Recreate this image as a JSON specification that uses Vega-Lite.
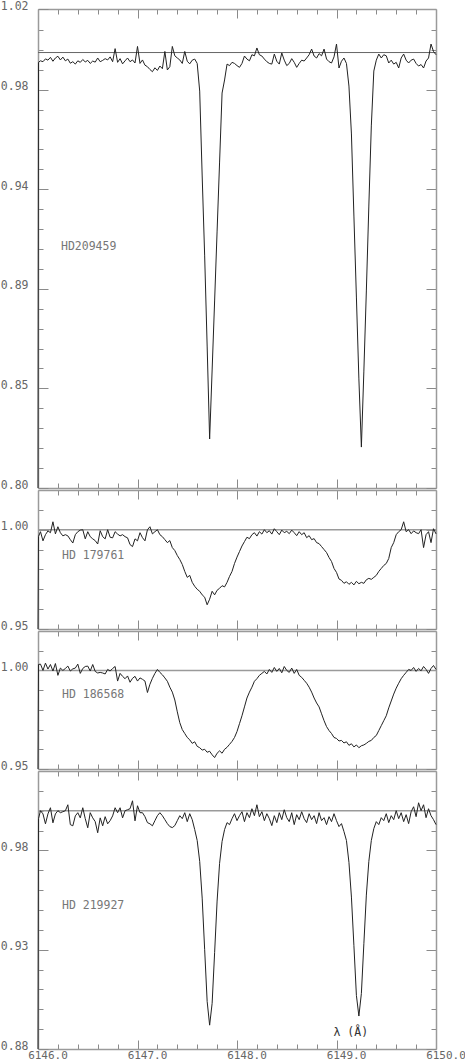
{
"$schema": "https://vega.github.io/schema/vega-lite/v6.json",
"padding": 0,
"background": "white",
"spacing": 2,
"bounds": "flush",
"config": {
 "view": {"stroke": null},
 "axis": {"domainColor": "#9a9a9a", "domainWidth": 1.5, "tickColor": "#8a8a8a", "tickWidth": 1, "labelFont": "DejaVu Sans Mono", "labelFontSize": 11.5, "labelColor": "#666", "grid": false, "labelFlush": false, "labelOverlap": false},
 "text": {"font": "DejaVu Sans Mono", "fontSize": 11.5}
},
"datasets": {"spec": [
{"x":6146.000,"hd209459":0.80,"hd179761":0.95,"hd186568":0.95,"hd219927":0.88},
{"x":6146.005,"hd209459":0.9955,"hd179761":0.9966,"hd186568":1.0030,"hd219927":0.9960},
{"x":6146.025,"hd209459":0.9962,"hd179761":0.9990,"hd186568":1.0032,"hd219927":1.0000},
{"x":6146.050,"hd209459":0.9958,"hd179761":0.9944,"hd186568":1.0000,"hd219927":0.9984},
{"x":6146.075,"hd209459":0.9971,"hd179761":0.9975,"hd186568":1.0037,"hd219927":0.9934},
{"x":6146.100,"hd209459":0.9965,"hd179761":0.9994,"hd186568":1.0007,"hd219927":0.9984},
{"x":6146.125,"hd209459":0.9978,"hd179761":0.9985,"hd186568":1.0030,"hd219927":1.0015},
{"x":6146.150,"hd209459":0.9960,"hd179761":1.0040,"hd186568":0.9997,"hd219927":0.9939},
{"x":6146.175,"hd209459":0.9975,"hd179761":0.9979,"hd186568":1.0035,"hd219927":0.9984},
{"x":6146.200,"hd209459":0.9983,"hd179761":1.0015,"hd186568":0.9975,"hd219927":1.0000},
{"x":6146.225,"hd209459":0.9966,"hd179761":0.9985,"hd186568":1.0012,"hd219927":0.9990},
{"x":6146.250,"hd209459":0.9979,"hd179761":0.9969,"hd186568":1.0000,"hd219927":0.9995},
{"x":6146.275,"hd209459":0.9962,"hd179761":0.9975,"hd186568":1.0010,"hd219927":1.0000},
{"x":6146.300,"hd209459":0.9970,"hd179761":0.9969,"hd186568":1.0022,"hd219927":1.0030},
{"x":6146.325,"hd209459":0.9951,"hd179761":0.9950,"hd186568":0.9997,"hd219927":0.9930},
{"x":6146.350,"hd209459":0.9958,"hd179761":0.9933,"hd186568":1.0008,"hd219927":0.9924},
{"x":6146.375,"hd209459":0.9947,"hd179761":0.9975,"hd186568":1.0012,"hd219927":0.9974},
{"x":6146.400,"hd209459":0.9962,"hd179761":0.9990,"hd186568":1.0032,"hd219927":0.9990},
{"x":6146.425,"hd209459":0.9955,"hd179761":0.9998,"hd186568":0.9985,"hd219927":0.9964},
{"x":6146.450,"hd209459":0.9968,"hd179761":1.0000,"hd186568":1.0010,"hd219927":1.0015},
{"x":6146.475,"hd209459":0.9957,"hd179761":0.9954,"hd186568":1.0020,"hd219927":0.9960},
{"x":6146.500,"hd209459":0.9964,"hd179761":0.9990,"hd186568":1.0022,"hd219927":0.9914},
{"x":6146.525,"hd209459":0.9950,"hd179761":0.9965,"hd186568":0.9997,"hd219927":0.9990},
{"x":6146.550,"hd209459":0.9961,"hd179761":0.9954,"hd186568":1.0030,"hd219927":0.9964},
{"x":6146.575,"hd209459":0.9956,"hd179761":0.9945,"hd186568":0.9995,"hd219927":0.9945},
{"x":6146.600,"hd209459":0.9975,"hd179761":0.9928,"hd186568":0.9987,"hd219927":0.9889},
{"x":6146.625,"hd209459":0.9958,"hd179761":0.9995,"hd186568":0.9990,"hd219927":0.9964},
{"x":6146.650,"hd209459":0.9964,"hd179761":0.9965,"hd186568":0.9987,"hd219927":0.9924},
{"x":6146.675,"hd209459":0.9972,"hd179761":0.9954,"hd186568":0.9982,"hd219927":0.9970},
{"x":6146.700,"hd209459":0.9966,"hd179761":1.0000,"hd186568":1.0005,"hd219927":0.9934},
{"x":6146.725,"hd209459":0.9980,"hd179761":0.9962,"hd186568":0.9997,"hd219927":0.9950},
{"x":6146.750,"hd209459":0.9958,"hd179761":0.9959,"hd186568":1.0010,"hd219927":0.9974},
{"x":6146.775,"hd209459":1.0018,"hd179761":0.9990,"hd186568":1.0020,"hd219927":1.0015},
{"x":6146.800,"hd209459":0.9955,"hd179761":0.9978,"hd186568":0.9946,"hd219927":0.9990},
{"x":6146.825,"hd209459":0.9972,"hd179761":0.9969,"hd186568":0.9985,"hd219927":1.0015},
{"x":6146.850,"hd209459":0.9948,"hd179761":0.9975,"hd186568":0.9970,"hd219927":0.9964},
{"x":6146.875,"hd209459":0.9962,"hd179761":0.9965,"hd186568":0.9958,"hd219927":1.0000},
{"x":6146.900,"hd209459":0.9975,"hd179761":0.9959,"hd186568":0.9972,"hd219927":1.0005},
{"x":6146.925,"hd209459":0.9958,"hd179761":0.9925,"hd186568":0.9940,"hd219927":1.0010},
{"x":6146.950,"hd209459":0.9966,"hd179761":0.9915,"hd186568":0.9960,"hd219927":1.0050},
{"x":6146.975,"hd209459":0.9952,"hd179761":0.9954,"hd186568":0.9970,"hd219927":0.9949},
{"x":6147.000,"hd209459":1.0028,"hd179761":0.9944,"hd186568":0.9946,"hd219927":1.0025},
{"x":6147.025,"hd209459":0.9950,"hd179761":0.9985,"hd186568":0.9962,"hd219927":0.9990},
{"x":6147.050,"hd209459":0.9966,"hd179761":0.9960,"hd186568":0.9955,"hd219927":0.9990},
{"x":6147.075,"hd209459":0.9942,"hd179761":0.9944,"hd186568":0.9946,"hd219927":0.9970},
{"x":6147.100,"hd209459":0.9935,"hd179761":1.0000,"hd186568":0.9888,"hd219927":0.9940},
{"x":6147.125,"hd209459":0.9922,"hd179761":1.0015,"hd186568":0.9930,"hd219927":0.9934},
{"x":6147.150,"hd209459":0.9912,"hd179761":0.9979,"hd186568":0.9960,"hd219927":0.9924},
{"x":6147.175,"hd209459":0.9930,"hd179761":0.9990,"hd186568":0.9985,"hd219927":0.9950},
{"x":6147.200,"hd209459":0.9918,"hd179761":1.0000,"hd186568":1.0005,"hd219927":0.9975},
{"x":6147.225,"hd209459":0.9938,"hd179761":0.9975,"hd186568":0.9990,"hd219927":0.9990},
{"x":6147.250,"hd209459":0.9926,"hd179761":0.9965,"hd186568":0.9978,"hd219927":0.9975},
{"x":6147.275,"hd209459":1.0005,"hd179761":0.9950,"hd186568":0.9962,"hd219927":0.9955},
{"x":6147.300,"hd209459":0.9920,"hd179761":0.9935,"hd186568":0.9945,"hd219927":0.9935},
{"x":6147.325,"hd209459":0.9935,"hd179761":0.9945,"hd186568":0.9915,"hd219927":0.9920},
{"x":6147.350,"hd209459":1.0028,"hd179761":0.9910,"hd186568":0.9890,"hd219927":0.9915},
{"x":6147.375,"hd209459":0.9985,"hd179761":0.9895,"hd186568":0.9850,"hd219927":0.9925},
{"x":6147.400,"hd209459":0.9975,"hd179761":0.9870,"hd186568":0.9790,"hd219927":0.9950},
{"x":6147.425,"hd209459":0.9966,"hd179761":0.9850,"hd186568":0.9735,"hd219927":0.9975},
{"x":6147.450,"hd209459":0.9950,"hd179761":0.9825,"hd186568":0.9700,"hd219927":0.9960},
{"x":6147.475,"hd209459":1.0005,"hd179761":0.9790,"hd186568":0.9680,"hd219927":0.9990},
{"x":6147.500,"hd209459":0.9960,"hd179761":0.9760,"hd186568":0.9660,"hd219927":0.9945},
{"x":6147.525,"hd209459":0.9948,"hd179761":0.9770,"hd186568":0.9648,"hd219927":0.9985},
{"x":6147.550,"hd209459":0.9965,"hd179761":0.9735,"hd186568":0.9630,"hd219927":0.9955},
{"x":6147.575,"hd209459":0.9970,"hd179761":0.9715,"hd186568":0.9638,"hd219927":0.9905},
{"x":6147.600,"hd209459":0.9950,"hd179761":0.9700,"hd186568":0.9615,"hd219927":0.9850},
{"x":6147.625,"hd209459":0.9823,"hd179761":0.9690,"hd186568":0.9608,"hd219927":0.9745},
{"x":6147.650,"hd209459":0.9433,"hd179761":0.9672,"hd186568":0.9596,"hd219927":0.9560},
{"x":6147.675,"hd209459":0.9066,"hd179761":0.9660,"hd186568":0.9600,"hd219927":0.9300},
{"x":6147.700,"hd209459":0.8652,"hd179761":0.9622,"hd186568":0.9585,"hd219927":0.9040},
{"x":6147.725,"hd209459":0.8225,"hd179761":0.9650,"hd186568":0.9590,"hd219927":0.8920},
{"x":6147.750,"hd209459":0.8542,"hd179761":0.9690,"hd186568":0.9572,"hd219927":0.9030},
{"x":6147.775,"hd209459":0.8859,"hd179761":0.9672,"hd186568":0.9558,"hd219927":0.9285},
{"x":6147.800,"hd209459":0.9180,"hd179761":0.9695,"hd186568":0.9580,"hd219927":0.9545},
{"x":6147.825,"hd209459":0.9497,"hd179761":0.9705,"hd186568":0.9592,"hd219927":0.9735},
{"x":6147.850,"hd209459":0.9814,"hd179761":0.9718,"hd186568":0.9580,"hd219927":0.9845},
{"x":6147.875,"hd209459":0.9874,"hd179761":0.9712,"hd186568":0.9600,"hd219927":0.9905},
{"x":6147.900,"hd209459":0.9947,"hd179761":0.9735,"hd186568":0.9610,"hd219927":0.9940},
{"x":6147.925,"hd209459":0.9940,"hd179761":0.9765,"hd186568":0.9625,"hd219927":0.9930},
{"x":6147.950,"hd209459":0.9955,"hd179761":0.9790,"hd186568":0.9640,"hd219927":0.9960},
{"x":6147.975,"hd209459":0.9950,"hd179761":0.9830,"hd186568":0.9660,"hd219927":0.9985},
{"x":6148.000,"hd209459":0.9940,"hd179761":0.9862,"hd186568":0.9690,"hd219927":0.9950},
{"x":6148.025,"hd209459":0.9932,"hd179761":0.9890,"hd186568":0.9730,"hd219927":0.9975},
{"x":6148.050,"hd209459":0.9950,"hd179761":0.9918,"hd186568":0.9770,"hd219927":0.9995},
{"x":6148.075,"hd209459":0.9984,"hd179761":0.9940,"hd186568":0.9815,"hd219927":0.9945},
{"x":6148.100,"hd209459":0.9970,"hd179761":0.9962,"hd186568":0.9860,"hd219927":0.9990},
{"x":6148.125,"hd209459":0.9962,"hd179761":0.9955,"hd186568":0.9890,"hd219927":0.9965},
{"x":6148.150,"hd209459":0.9990,"hd179761":0.9975,"hd186568":0.9915,"hd219927":1.0010},
{"x":6148.175,"hd209459":0.9985,"hd179761":0.9985,"hd186568":0.9945,"hd219927":0.9975},
{"x":6148.200,"hd209459":1.0021,"hd179761":0.9968,"hd186568":0.9958,"hd219927":1.0030},
{"x":6148.225,"hd209459":0.9990,"hd179761":0.9990,"hd186568":0.9975,"hd219927":0.9970},
{"x":6148.250,"hd209459":0.9984,"hd179761":0.9978,"hd186568":0.9985,"hd219927":0.9995},
{"x":6148.275,"hd209459":0.9970,"hd179761":1.0000,"hd186568":0.9995,"hd219927":0.9950},
{"x":6148.300,"hd209459":0.9958,"hd179761":0.9985,"hd186568":0.9982,"hd219927":0.9985},
{"x":6148.325,"hd209459":0.9950,"hd179761":0.9995,"hd186568":1.0005,"hd219927":0.9960},
{"x":6148.350,"hd209459":0.9947,"hd179761":0.9978,"hd186568":0.9990,"hd219927":0.9925},
{"x":6148.375,"hd209459":0.9993,"hd179761":1.0005,"hd186568":1.0015,"hd219927":0.9975},
{"x":6148.400,"hd209459":0.9960,"hd179761":0.9990,"hd186568":0.9995,"hd219927":0.9940},
{"x":6148.425,"hd209459":0.9947,"hd179761":0.9975,"hd186568":1.0010,"hd219927":0.9990},
{"x":6148.450,"hd209459":0.9998,"hd179761":0.9998,"hd186568":0.9988,"hd219927":0.9955},
{"x":6148.475,"hd209459":0.9965,"hd179761":0.9985,"hd186568":1.0020,"hd219927":1.0005},
{"x":6148.500,"hd209459":0.9940,"hd179761":0.9992,"hd186568":1.0000,"hd219927":0.9965},
{"x":6148.525,"hd209459":0.9950,"hd179761":0.9980,"hd186568":0.9990,"hd219927":0.9945},
{"x":6148.550,"hd209459":0.9972,"hd179761":0.9998,"hd186568":1.0012,"hd219927":0.9990},
{"x":6148.575,"hd209459":0.9955,"hd179761":0.9985,"hd186568":0.9985,"hd219927":0.9930},
{"x":6148.600,"hd209459":0.9932,"hd179761":0.9970,"hd186568":1.0005,"hd219927":0.9980},
{"x":6148.625,"hd209459":0.9950,"hd179761":0.9990,"hd186568":0.9975,"hd219927":0.9955},
{"x":6148.650,"hd209459":0.9965,"hd179761":0.9975,"hd186568":0.9965,"hd219927":0.9995},
{"x":6148.675,"hd209459":0.9961,"hd179761":0.9985,"hd186568":0.9950,"hd219927":0.9960},
{"x":6148.700,"hd209459":0.9975,"hd179761":0.9960,"hd186568":0.9935,"hd219927":0.9940},
{"x":6148.725,"hd209459":0.9990,"hd179761":0.9970,"hd186568":0.9915,"hd219927":0.9985},
{"x":6148.750,"hd209459":1.0016,"hd179761":0.9950,"hd186568":0.9890,"hd219927":0.9955},
{"x":6148.775,"hd209459":0.9984,"hd179761":0.9955,"hd186568":0.9860,"hd219927":0.9975},
{"x":6148.800,"hd209459":0.9975,"hd179761":0.9935,"hd186568":0.9835,"hd219927":0.9935},
{"x":6148.825,"hd209459":0.9995,"hd179761":0.9930,"hd186568":0.9815,"hd219927":0.9990},
{"x":6148.850,"hd209459":0.9985,"hd179761":0.9915,"hd186568":0.9780,"hd219927":0.9950},
{"x":6148.875,"hd209459":1.0016,"hd179761":0.9900,"hd186568":0.9745,"hd219927":0.9965},
{"x":6148.900,"hd209459":0.9970,"hd179761":0.9885,"hd186568":0.9715,"hd219927":0.9930},
{"x":6148.925,"hd209459":0.9958,"hd179761":0.9860,"hd186568":0.9695,"hd219927":0.9970},
{"x":6148.950,"hd209459":0.9952,"hd179761":0.9840,"hd186568":0.9680,"hd219927":0.9945},
{"x":6148.975,"hd209459":0.9980,"hd179761":0.9805,"hd186568":0.9660,"hd219927":0.9985},
{"x":6149.000,"hd209459":1.0039,"hd179761":0.9785,"hd186568":0.9655,"hd219927":0.9950},
{"x":6149.025,"hd209459":0.9929,"hd179761":0.9752,"hd186568":0.9642,"hd219927":0.9920},
{"x":6149.050,"hd209459":0.9960,"hd179761":0.9745,"hd186568":0.9645,"hd219927":0.9935},
{"x":6149.075,"hd209459":0.9975,"hd179761":0.9730,"hd186568":0.9632,"hd219927":0.9895},
{"x":6149.100,"hd209459":0.9950,"hd179761":0.9738,"hd186568":0.9638,"hd219927":0.9850},
{"x":6149.125,"hd209459":0.9846,"hd179761":0.9725,"hd186568":0.9620,"hd219927":0.9740},
{"x":6149.150,"hd209459":0.9626,"hd179761":0.9735,"hd186568":0.9628,"hd219927":0.9565},
{"x":6149.175,"hd209459":0.9249,"hd179761":0.9722,"hd186568":0.9612,"hd219927":0.9320},
{"x":6149.200,"hd209459":0.8877,"hd179761":0.9740,"hd186568":0.9622,"hd219927":0.9070},
{"x":6149.225,"hd209459":0.8501,"hd179761":0.9728,"hd186568":0.9608,"hd219927":0.8966},
{"x":6149.250,"hd209459":0.8188,"hd179761":0.9735,"hd186568":0.9618,"hd219927":0.9080},
{"x":6149.275,"hd209459":0.8537,"hd179761":0.9730,"hd186568":0.9622,"hd219927":0.9330},
{"x":6149.300,"hd209459":0.8905,"hd179761":0.9748,"hd186568":0.9630,"hd219927":0.9575},
{"x":6149.325,"hd209459":0.9295,"hd179761":0.9755,"hd186568":0.9640,"hd219927":0.9745},
{"x":6149.350,"hd209459":0.9663,"hd179761":0.9750,"hd186568":0.9645,"hd219927":0.9850},
{"x":6149.375,"hd209459":0.9915,"hd179761":0.9760,"hd186568":0.9660,"hd219927":0.9910},
{"x":6149.400,"hd209459":0.9965,"hd179761":0.9770,"hd186568":0.9670,"hd219927":0.9945},
{"x":6149.425,"hd209459":0.9993,"hd179761":0.9790,"hd186568":0.9695,"hd219927":0.9930},
{"x":6149.450,"hd209459":0.9975,"hd179761":0.9805,"hd186568":0.9720,"hd219927":0.9965},
{"x":6149.475,"hd209459":0.9990,"hd179761":0.9820,"hd186568":0.9745,"hd219927":0.9950},
{"x":6149.500,"hd209459":0.9985,"hd179761":0.9830,"hd186568":0.9770,"hd219927":0.9985},
{"x":6149.525,"hd209459":0.9952,"hd179761":0.9855,"hd186568":0.9810,"hd219927":0.9940},
{"x":6149.550,"hd209459":0.9965,"hd179761":0.9910,"hd186568":0.9845,"hd219927":0.9975},
{"x":6149.575,"hd209459":0.9947,"hd179761":0.9935,"hd186568":0.9880,"hd219927":0.9955},
{"x":6149.600,"hd209459":0.9955,"hd179761":0.9975,"hd186568":0.9910,"hd219927":1.0000},
{"x":6149.625,"hd209459":0.9929,"hd179761":0.9990,"hd186568":0.9935,"hd219927":0.9960},
{"x":6149.650,"hd209459":0.9975,"hd179761":1.0000,"hd186568":0.9958,"hd219927":0.9990},
{"x":6149.675,"hd209459":0.9993,"hd179761":1.0040,"hd186568":0.9975,"hd219927":0.9945},
{"x":6149.700,"hd209459":0.9965,"hd179761":0.9990,"hd186568":0.9990,"hd219927":0.9980},
{"x":6149.725,"hd209459":0.9952,"hd179761":1.0000,"hd186568":1.0005,"hd219927":0.9935},
{"x":6149.750,"hd209459":0.9965,"hd179761":0.9980,"hd186568":1.0000,"hd219927":0.9995},
{"x":6149.775,"hd209459":0.9970,"hd179761":0.9994,"hd186568":1.0015,"hd219927":1.0020},
{"x":6149.800,"hd209459":0.9950,"hd179761":0.9985,"hd186568":0.9995,"hd219927":0.9970},
{"x":6149.825,"hd209459":0.9938,"hd179761":0.9980,"hd186568":1.0010,"hd219927":1.0040},
{"x":6149.850,"hd209459":0.9945,"hd179761":1.0000,"hd186568":0.9998,"hd219927":1.0000},
{"x":6149.875,"hd209459":0.9929,"hd179761":0.9910,"hd186568":1.0020,"hd219927":1.0030},
{"x":6149.900,"hd209459":0.9961,"hd179761":0.9975,"hd186568":1.0005,"hd219927":0.9965},
{"x":6149.925,"hd209459":0.9975,"hd179761":0.9990,"hd186568":0.9985,"hd219927":1.0010},
{"x":6149.950,"hd209459":1.0039,"hd179761":0.9935,"hd186568":1.0010,"hd219927":0.9975},
{"x":6149.975,"hd209459":1.0005,"hd179761":1.0005,"hd186568":1.0025,"hd219927":0.9955},
{"x":6150.000,"hd209459":0.9990,"hd179761":0.9979,"hd186568":1.0005,"hd219927":0.9930}
]},
"vconcat": [
{
 "width": 398, "height": 479,
 "layer": [
  {"data": {"values": [{"level": 1.0}]}, "mark": {"type": "rule", "color": "#666", "strokeWidth": 1},
   "encoding": {"y": {"field": "level", "type": "quantitative", "scale": {"domain": [0.8, 1.02], "nice": false, "zero": false}, "axis": null}}},
  {"data": {"name": "spec"}, "mark": {"type": "line", "color": "#222", "strokeWidth": 1},
   "encoding": {
    "x": {"field": "x", "type": "quantitative", "scale": {"domain": [6146, 6150], "nice": false, "zero": false},
     "axis": {"orient": "bottom", "title": null, "labels": false, "values": [6146,6146.2,6146.4,6146.6,6146.8,6147,6147.2,6147.4,6147.6,6147.8,6148,6148.2,6148.4,6148.6,6148.8,6149,6149.2,6149.4,6149.6,6149.8,6150],
      "tickSize": {"condition": {"test": "abs(datum.value-round(datum.value))<0.01", "value": -9}, "value": -5}}},
    "y": {"field": "hd209459", "type": "quantitative", "scale": {"domain": [0.8, 1.02], "nice": false, "zero": false},
     "axis": {"orient": "left", "title": null, "values": [0.8,0.80915,0.8183,0.82745,0.8366,0.84575,0.85489,0.86404,0.87319,0.88234,0.89149,0.90064,0.90979,0.91894,0.92809,0.93724,0.94638,0.95553,0.96468,0.97383,0.98298,0.99213,1.00128,1.01043,1.02],
      "tickSize": {"condition": {"test": "datum.value<0.801||abs(datum.value-0.84575)<0.0005||abs(datum.value-0.89149)<0.0005||abs(datum.value-0.93724)<0.0005||abs(datum.value-0.98298)<0.0005||datum.value>1.015", "value": -10}, "value": -5},
      "labelExpr": "(datum.value<0.801||abs(datum.value-0.84575)<0.0005||abs(datum.value-0.89149)<0.0005||abs(datum.value-0.93724)<0.0005||abs(datum.value-0.98298)<0.0005||datum.value>1.015) ? format(datum.value,'.2f') : ''",
      "labelPadding": 20, "labelAlign": "right", "labelBaseline": "alphabetic"}}
   }},
  {"data": {"values": [{"x": 6146.231, "y": 0.9107, "label": "HD209459"}]}, "mark": {"type": "text", "align": "left", "baseline": "middle", "color": "#777"},
   "encoding": {
    "x": {"field": "x", "type": "quantitative", "axis": {"orient": "top", "title": null, "labels": false, "values": [6146,6146.2,6146.4,6146.6,6146.8,6147,6147.2,6147.4,6147.6,6147.8,6148,6148.2,6148.4,6148.6,6148.8,6149,6149.2,6149.4,6149.6,6149.8,6150],
      "tickSize": {"condition": {"test": "abs(datum.value-round(datum.value))<0.01", "value": -9}, "value": -5}}},
    "y": {"field": "y", "type": "quantitative", "axis": {"orient": "right", "title": null, "labels": false, "values": [0.8,0.80915,0.8183,0.82745,0.8366,0.84575,0.85489,0.86404,0.87319,0.88234,0.89149,0.90064,0.90979,0.91894,0.92809,0.93724,0.94638,0.95553,0.96468,0.97383,0.98298,0.99213,1.00128,1.01043],
      "tickSize": {"condition": {"test": "datum.value<0.801||abs(datum.value-0.84575)<0.0005||abs(datum.value-0.89149)<0.0005||abs(datum.value-0.93724)<0.0005||abs(datum.value-0.98298)<0.0005", "value": -10}, "value": -5}}},
    "text": {"field": "label"}
   }}
 ],
 "resolve": {"axis": {"x": "independent", "y": "independent"}}
},
{
 "width": 398, "height": 139,
 "layer": [
  {"data": {"values": [{"level": 1.0}]}, "mark": {"type": "rule", "color": "#9a9a9a", "strokeWidth": 1.5},
   "encoding": {"y": {"field": "level", "type": "quantitative", "scale": {"domain": [0.95, 1.02], "nice": false, "zero": false}, "axis": null}}},
  {"data": {"name": "spec"}, "mark": {"type": "line", "color": "#222", "strokeWidth": 1},
   "encoding": {
    "x": {"field": "x", "type": "quantitative", "scale": {"domain": [6146, 6150], "nice": false, "zero": false},
     "axis": {"orient": "bottom", "title": null, "labels": false, "values": [6146,6146.2,6146.4,6146.6,6146.8,6147,6147.2,6147.4,6147.6,6147.8,6148,6148.2,6148.4,6148.6,6148.8,6149,6149.2,6149.4,6149.6,6149.8,6150],
      "tickSize": {"condition": {"test": "abs(datum.value-round(datum.value))<0.01", "value": -9}, "value": -5}}},
    "y": {"field": "hd179761", "type": "quantitative", "scale": {"domain": [0.95, 1.02], "nice": false, "zero": false},
     "axis": {"orient": "left", "title": null, "values": [0.95,0.96,0.97,0.98,0.99,1.0,1.01],
      "tickSize": {"condition": {"test": "abs(datum.value-0.95)<0.001||abs(datum.value-1)<0.001", "value": -10}, "value": -5},
      "labelExpr": "(abs(datum.value-0.95)<0.001||abs(datum.value-1)<0.001) ? format(datum.value,'.2f') : ''",
      "labelPadding": 20, "labelAlign": "right", "labelBaseline": "alphabetic"}}
   }},
  {"data": {"values": [{"x": 6146.241, "y": 0.9868, "label": "HD 179761"}]}, "mark": {"type": "text", "align": "left", "baseline": "middle", "color": "#777"},
   "encoding": {
    "x": {"field": "x", "type": "quantitative", "axis": {"orient": "top", "title": null, "labels": false, "values": [6146,6146.2,6146.4,6146.6,6146.8,6147,6147.2,6147.4,6147.6,6147.8,6148,6148.2,6148.4,6148.6,6148.8,6149,6149.2,6149.4,6149.6,6149.8,6150],
      "tickSize": {"condition": {"test": "abs(datum.value-round(datum.value))<0.01", "value": -9}, "value": -5}}},
    "y": {"field": "y", "type": "quantitative", "axis": {"orient": "right", "title": null, "labels": false, "values": [0.95,0.96,0.97,0.98,0.99,1.0,1.01],
      "tickSize": {"condition": {"test": "abs(datum.value-0.95)<0.001||abs(datum.value-1)<0.001", "value": -10}, "value": -5}}},
    "text": {"field": "label"}
   }}
 ],
 "resolve": {"axis": {"x": "independent", "y": "independent"}}
},
{
 "width": 398, "height": 138,
 "layer": [
  {"data": {"values": [{"level": 1.0}]}, "mark": {"type": "rule", "color": "#9a9a9a", "strokeWidth": 1.5},
   "encoding": {"y": {"field": "level", "type": "quantitative", "scale": {"domain": [0.95, 1.02], "nice": false, "zero": false}, "axis": null}}},
  {"data": {"name": "spec"}, "mark": {"type": "line", "color": "#222", "strokeWidth": 1},
   "encoding": {
    "x": {"field": "x", "type": "quantitative", "scale": {"domain": [6146, 6150], "nice": false, "zero": false},
     "axis": {"orient": "bottom", "title": null, "labels": false, "values": [6146,6146.2,6146.4,6146.6,6146.8,6147,6147.2,6147.4,6147.6,6147.8,6148,6148.2,6148.4,6148.6,6148.8,6149,6149.2,6149.4,6149.6,6149.8,6150],
      "tickSize": {"condition": {"test": "abs(datum.value-round(datum.value))<0.01", "value": -9}, "value": -5}}},
    "y": {"field": "hd186568", "type": "quantitative", "scale": {"domain": [0.95, 1.02], "nice": false, "zero": false},
     "axis": {"orient": "left", "title": null, "values": [0.95,0.96,0.97,0.98,0.99,1.0,1.01],
      "tickSize": {"condition": {"test": "abs(datum.value-0.95)<0.001||abs(datum.value-1)<0.001", "value": -10}, "value": -5},
      "labelExpr": "(abs(datum.value-0.95)<0.001||abs(datum.value-1)<0.001) ? format(datum.value,'.2f') : ''",
      "labelPadding": 20, "labelAlign": "right", "labelBaseline": "alphabetic"}}
   }},
  {"data": {"values": [{"x": 6146.241, "y": 0.9875, "label": "HD 186568"}]}, "mark": {"type": "text", "align": "left", "baseline": "middle", "color": "#777"},
   "encoding": {
    "x": {"field": "x", "type": "quantitative", "axis": {"orient": "top", "title": null, "labels": false, "values": [6146,6146.2,6146.4,6146.6,6146.8,6147,6147.2,6147.4,6147.6,6147.8,6148,6148.2,6148.4,6148.6,6148.8,6149,6149.2,6149.4,6149.6,6149.8,6150],
      "tickSize": {"condition": {"test": "abs(datum.value-round(datum.value))<0.01", "value": -9}, "value": -5}}},
    "y": {"field": "y", "type": "quantitative", "axis": {"orient": "right", "title": null, "labels": false, "values": [0.95,0.96,0.97,0.98,0.99,1.0,1.01],
      "tickSize": {"condition": {"test": "abs(datum.value-0.95)<0.001||abs(datum.value-1)<0.001", "value": -10}, "value": -5}}},
    "text": {"field": "label"}
   }}
 ],
 "resolve": {"axis": {"x": "independent", "y": "independent"}}
},
{
 "width": 398, "height": 278,
 "layer": [
  {"data": {"values": [{"level": 1.0}]}, "mark": {"type": "rule", "color": "#9a9a9a", "strokeWidth": 1.5},
   "encoding": {"y": {"field": "level", "type": "quantitative", "scale": {"domain": [0.88, 1.02], "nice": false, "zero": false}, "axis": null}}},
  {"data": {"name": "spec"}, "mark": {"type": "line", "color": "#222", "strokeWidth": 1},
   "encoding": {
    "x": {"field": "x", "type": "quantitative", "scale": {"domain": [6146, 6150], "nice": false, "zero": false},
     "axis": {"orient": "bottom", "title": null, "values": [6146,6146.2,6146.4,6146.6,6146.8,6147,6147.2,6147.4,6147.6,6147.8,6148,6148.2,6148.4,6148.6,6148.8,6149,6149.2,6149.4,6149.6,6149.8,6150],
      "tickSize": {"condition": {"test": "abs(datum.value-round(datum.value))<0.01", "value": -9}, "value": -5},
      "labelExpr": "abs(datum.value-round(datum.value))<0.01 ? format(datum.value,'.1f') : ''",
      "labelPadding": 9, "labelFontSize": 11, "labelBaseline": "top", "labelAlign": "center", "labelOffset": 9.5}},
    "y": {"field": "hd219927", "type": "quantitative", "scale": {"domain": [0.88, 1.02], "nice": false, "zero": false},
     "axis": {"orient": "left", "title": null, "values": [0.88,0.89,0.9,0.91,0.92,0.93,0.94,0.95,0.96,0.97,0.98,0.99,1.0,1.01],
      "tickSize": {"condition": {"test": "abs(datum.value-0.88)<0.001||abs(datum.value-0.93)<0.001||abs(datum.value-0.98)<0.001", "value": -10}, "value": -5},
      "labelExpr": "(abs(datum.value-0.88)<0.001||abs(datum.value-0.93)<0.001||abs(datum.value-0.98)<0.001) ? format(datum.value,'.2f') : ''",
      "labelPadding": 20, "labelAlign": "right", "labelBaseline": "alphabetic"}}
   }},
  {"data": {"values": [{"x": 6146.241, "y": 0.9521, "label": "HD 219927"}]}, "mark": {"type": "text", "align": "left", "baseline": "middle", "color": "#777"},
   "encoding": {
    "x": {"field": "x", "type": "quantitative", "axis": {"orient": "top", "title": null, "labels": false, "values": [6146,6146.2,6146.4,6146.6,6146.8,6147,6147.2,6147.4,6147.6,6147.8,6148,6148.2,6148.4,6148.6,6148.8,6149,6149.2,6149.4,6149.6,6149.8,6150],
      "tickSize": {"condition": {"test": "abs(datum.value-round(datum.value))<0.01", "value": -9}, "value": -5}}},
    "y": {"field": "y", "type": "quantitative", "axis": {"orient": "right", "title": null, "labels": false, "values": [0.88,0.89,0.9,0.91,0.92,0.93,0.94,0.95,0.96,0.97,0.98,0.99,1.0,1.01],
      "tickSize": {"condition": {"test": "abs(datum.value-0.88)<0.001||abs(datum.value-0.93)<0.001||abs(datum.value-0.98)<0.001", "value": -10}, "value": -5}}},
    "text": {"field": "label"}
   }},
  {"data": {"values": [{"x": 6148.97, "y": 0.888, "label": "λ (Å)"}]}, "mark": {"type": "text", "align": "left", "baseline": "middle", "color": "#333"},
   "encoding": {
    "x": {"field": "x", "type": "quantitative", "axis": null},
    "y": {"field": "y", "type": "quantitative", "axis": null},
    "text": {"field": "label"}
   }}
 ],
 "resolve": {"axis": {"x": "independent", "y": "independent"}}
}
]
}
